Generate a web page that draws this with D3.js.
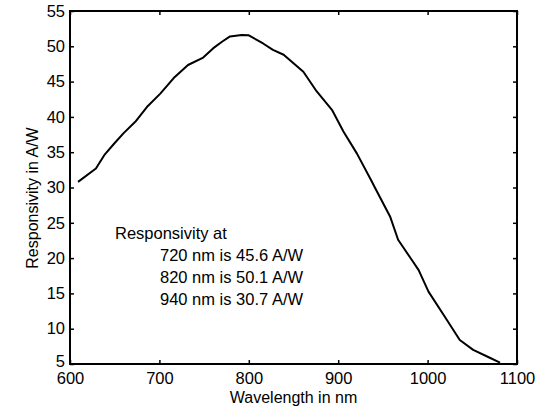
<!DOCTYPE html>
<html>
<head>
<meta charset="utf-8">
<script src="https://cdn.jsdelivr.net/npm/d3@7"></script>
<style>
  body { margin: 0; background: #fff; }
  svg { font-family: "Liberation Sans", Arial, sans-serif; }
</style>
</head>
<body>
<svg id="chart" width="545" height="411"></svg>
<script>
// wavelength (nm) and responsivity (A/W)
const wavelength = [609, 629, 639, 650, 660, 673, 686, 701, 716, 732, 749, 760, 770, 779, 792, 800,
  816, 827, 839, 850, 861, 876, 893, 906, 921, 937, 941, 958, 967, 982, 990, 1001, 1018, 1036, 1051, 1066, 1081]
const responsivity = [30.8, 32.7, 34.7, 36.3, 37.7, 39.3, 41.4, 43.3, 45.5, 47.35, 48.4, 49.7, 50.65, 51.4, 51.6, 51.55,
  50.4, 49.5, 48.8, 47.6, 46.4, 43.6, 41.0, 37.9, 34.8, 31.0, 30.0, 25.9, 22.6, 19.8, 18.3, 15.25, 11.95, 8.4, 7.0, 6.1, 5.2]
const xTicks = [600, 700, 800, 900, 1000, 1100]
const yTicks = [5, 10, 15, 20, 25, 30, 35, 40, 45, 50, 55]
const noteLines = ['720 nm is 45.6 A/W', '820 nm is 50.1 A/W', '940 nm is 30.7 A/W']

const margin = { left: 70, right: 28, top: 11, bottom: 47 }
const width = 545, height = 411
const svg = d3.select('#chart')

const x = d3.scaleLinear().domain([600, 1100]).range([margin.left, width - margin.right])
const y = d3.scaleLinear().domain([5, 55]).range([height - margin.bottom, margin.top])

// axes (ticks pointing inward, on all four sides)
const tickLen = 4
const axisStyle = (g) => {
  g.select('.domain').remove()
  g.selectAll('.tick line').attr('stroke', '#000').attr('stroke-width', 1.5)
  g.selectAll('.tick text').attr('fill', '#000').attr('font-size', 16.5)
}
svg.append('g')
  .attr('transform', `translate(0,${y(5)})`)
  .call(d3.axisBottom(x).tickValues(xTicks).tickSize(-tickLen).tickPadding(8).tickFormat(d3.format('d')))
  .call(axisStyle)
svg.append('g')
  .attr('transform', `translate(${x(600)},0)`)
  .call(d3.axisLeft(y).tickValues(yTicks).tickSize(-tickLen).tickPadding(5).tickFormat(d3.format('d')))
  .call(axisStyle)
  .call((g) => g.selectAll('.tick').filter((d) => d === 5).select('text').attr('dy', '0.15em'))
svg.append('g')
  .attr('transform', `translate(0,${y(55)})`)
  .call(d3.axisTop(x).tickValues(xTicks).tickSize(-tickLen).tickFormat(''))
  .call(axisStyle)
svg.append('g')
  .attr('transform', `translate(${x(1100)},0)`)
  .call(d3.axisRight(y).tickValues(yTicks).tickSize(-tickLen).tickFormat(''))
  .call(axisStyle)

// box
svg.append('rect')
  .attr('x', x(600)).attr('y', y(55))
  .attr('width', x(1100) - x(600)).attr('height', y(5) - y(55))
  .attr('fill', 'none').attr('stroke', '#000').attr('stroke-width', 2)

// curve
const pts = wavelength.map((w, i) => [w, responsivity[i]])
svg.append('path')
  .datum(pts)
  .attr('d', d3.line().x((d) => x(d[0])).y((d) => y(d[1])))
  .attr('fill', 'none')
  .attr('stroke', '#000')
  .attr('stroke-width', 2)
  .attr('stroke-linejoin', 'round')

// labels
svg.append('text')
  .attr('x', (x(600) + x(1100)) / 2).attr('y', 403)
  .attr('text-anchor', 'middle').attr('font-size', 16)
  .text('Wavelength in nm')
svg.append('text')
  .attr('transform', 'translate(38,198) rotate(-90)')
  .attr('text-anchor', 'middle').attr('font-size', 16)
  .text('Responsivity in A/W')

// annotation
const note = svg.append('g').attr('font-size', 16.5)
note.append('text').attr('x', 115).attr('y', 239).text('Responsivity at')
note.selectAll('.line').data(noteLines).join('text')
  .attr('class', 'line')
  .attr('x', 160)
  .attr('y', (d, i) => 261 + i * 22)
  .text((d) => d)
</script>
</body>
</html>
